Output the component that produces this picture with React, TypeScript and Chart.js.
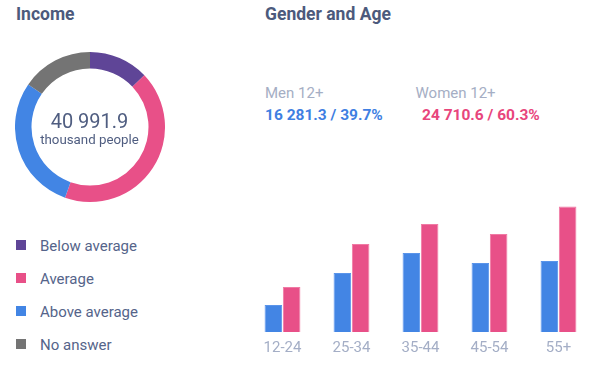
import React, { useEffect, useRef } from "react";
import { Chart, registerables } from "chart.js";

Chart.register(...registerables);

const incomeLabels = ["Below average", "Average", "Above average", "No answer"];
const incomeShares = [12.9, 42.5, 29.2, 15.4];
const incomeColors = ["#5f4597", "#e85088", "#4285e4", "#747474"];

const ageGroups = ["12-24", "25-34", "35-44", "45-54", "55+"];
const menValues = [1440, 3150, 4220, 3680, 3790];
const womenValues = [2400, 4700, 5760, 5230, 6700];

const FONT = "Roboto, 'Open Sans', sans-serif";
const TITLE_COLOR = "#4c5a7c";

export default function App() {
  const donutRef = useRef<HTMLCanvasElement>(null);
  const barRef = useRef<HTMLCanvasElement>(null);

  useEffect(() => {
    document.body.style.margin = "0";
    const donut = new Chart(donutRef.current!, {
      type: "doughnut",
      data: {
        labels: incomeLabels,
        datasets: [
          {
            data: incomeShares,
            backgroundColor: incomeColors,
            borderWidth: 0,
          },
        ],
      },
      options: {
        responsive: false,
        animation: false,
        cutout: "78%",
        plugins: { legend: { display: false }, tooltip: { enabled: false } },
        layout: { padding: 0 },
      },
    });
    const bar = new Chart(barRef.current!, {
      type: "bar",
      data: {
        labels: ageGroups,
        datasets: [
          {
            label: "Men 12+",
            data: menValues,
            backgroundColor: "#4385e4",
            borderColor: "#5a94ea",
            borderWidth: 1,
            barPercentage: 0.96,
            categoryPercentage: 0.53,
          },
          {
            label: "Women 12+",
            data: womenValues,
            backgroundColor: "#e85088",
            borderColor: "#f07aa4",
            borderWidth: 1,
            barPercentage: 0.96,
            categoryPercentage: 0.53,
          },
        ],
      },
      options: {
        responsive: false,
        animation: false,
        layout: { padding: 0 },
        plugins: { legend: { display: false }, tooltip: { enabled: false } },
        scales: {
          x: {
            grid: { display: false, drawTicks: false },
            border: { display: false },
            ticks: {
              color: "#a4aec6",
              font: { family: FONT, size: 15 },
              padding: 7,
            },
          },
          y: {
            display: false,
            min: 0,
            max: 7580,
          },
        },
      },
    });
    return () => {
      donut.destroy();
      bar.destroy();
    };
  }, []);

  const abs = (l: number, t: number, extra: React.CSSProperties = {}): React.CSSProperties => ({
    position: "absolute",
    left: l,
    top: t,
    whiteSpace: "nowrap",
    fontFamily: FONT,
    ...extra,
  });

  return (
    <div style={{ position: "relative", width: 602, height: 375, background: "#fff", overflow: "hidden" }}>
      <div style={abs(16, 4, { fontSize: 17.5, fontWeight: 700, color: TITLE_COLOR, lineHeight: "20px" })}>Income</div>
      <div style={abs(265, 4, { fontSize: 17.5, fontWeight: 700, color: TITLE_COLOR, lineHeight: "20px" })}>
        Gender and Age
      </div>

      <canvas ref={donutRef} width={150} height={150} style={abs(14.5, 52, { width: 150, height: 150 })} />
      <div style={abs(14.5, 109, { width: 150, textAlign: "center", fontSize: 20, color: "#4f5d80", lineHeight: "24px" })}>
        40 991.9
      </div>
      <div style={abs(14.5, 131, { width: 150, textAlign: "center", fontSize: 13.3, color: "#4f5d80", lineHeight: "18px" })}>
        thousand people
      </div>

      {incomeLabels.map((l, i) => (
        <React.Fragment key={l}>
          <div
            style={abs(16, 240 + i * 33, {
              width: 10,
              height: 10,
              background: incomeColors[i],
            })}
          />
          <div style={abs(40, 237 + i * 33, { fontSize: 15, color: "#55648a", lineHeight: "18px" })}>{l}</div>
        </React.Fragment>
      ))}

      <div style={abs(265, 84, { fontSize: 15, color: "#a5aec4", lineHeight: "18px" })}>Men 12+</div>
      <div style={abs(265, 106, { fontSize: 15.5, fontWeight: 700, color: "#3f7fe2", lineHeight: "18px" })}>
        16 281.3 / 39.7%
      </div>
      <div style={abs(415.5, 84, { fontSize: 15, color: "#a5aec4", lineHeight: "18px" })}>Women 12+</div>
      <div style={abs(422, 106, { fontSize: 15.5, fontWeight: 700, color: "#e8457c", lineHeight: "18px" })}>
        24 710.6 / 60.3%
      </div>

      <canvas ref={barRef} width={345} height={174} style={abs(248, 190, { width: 345, height: 174 })} />
    </div>
  );
}
